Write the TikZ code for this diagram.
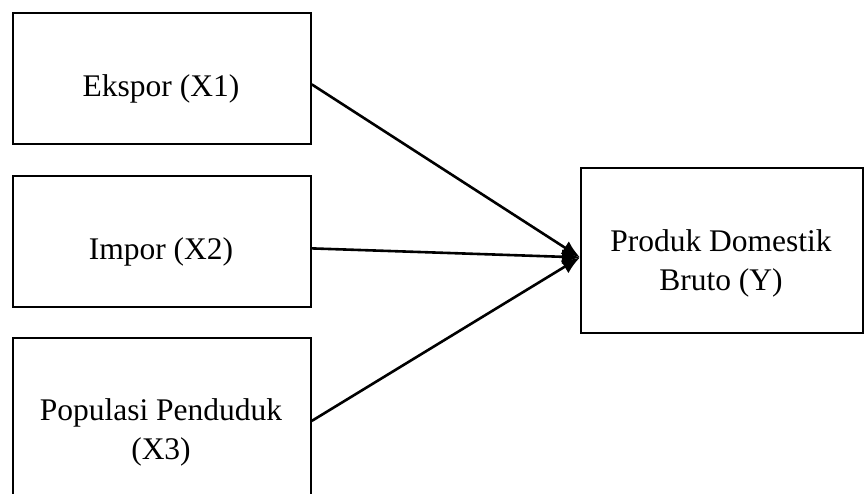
\documentclass[tikz,border=0pt]{standalone}
\usepackage{fontspec}
\setmainfont{Liberation Serif}
\usetikzlibrary{arrows.meta}
\begin{document}
\begin{tikzpicture}[x=1pt,y=-1pt,
  box/.style={draw=black,line width=1.8pt,rectangle,inner sep=0pt,anchor=north west},
  lbl/.style={font=\fontsize{31.5}{39}\selectfont,align=center,inner sep=0pt},
  arr/.style={line width=2.6pt,-{Latex[length=18pt,width=15pt]}}]
\useasboundingbox (0,0) rectangle (866,494);
\clip (0,0) rectangle (866,494);
\node[box,minimum width=298pt,minimum height=131pt] (b1) at (12,12) {};
\node[box,minimum width=298pt,minimum height=131pt] (b2) at (12,175) {};
\node[box,minimum width=298pt,minimum height=166pt] (b3) at (12,337) {};
\node[box,minimum width=282pt,minimum height=165pt] (by) at (580,167) {};
\node[lbl,anchor=base] (t1) at (161,97) {Ekspor (X1)};
\node[lbl,anchor=base] (t2) at (161,259) {Impor (X2)};
\node[lbl] (t3) at (161,432) {Populasi Penduduk\\(X3)};
\node[lbl] (ty) at (721,263) {Produk Domestik\\Bruto (Y)};
\coordinate (e1) at ([yshift=-6pt]b1.east);
\coordinate (e2) at ([yshift=-7pt]b2.east);
\coordinate (e3) at (b3.east);
\coordinate (ey) at ([yshift=-7pt]by.west);
\draw[arr] (e1) -- (ey);
\draw[arr] (e2) -- (ey);
\draw[arr] (e3) -- (ey);
\end{tikzpicture}
\end{document}
